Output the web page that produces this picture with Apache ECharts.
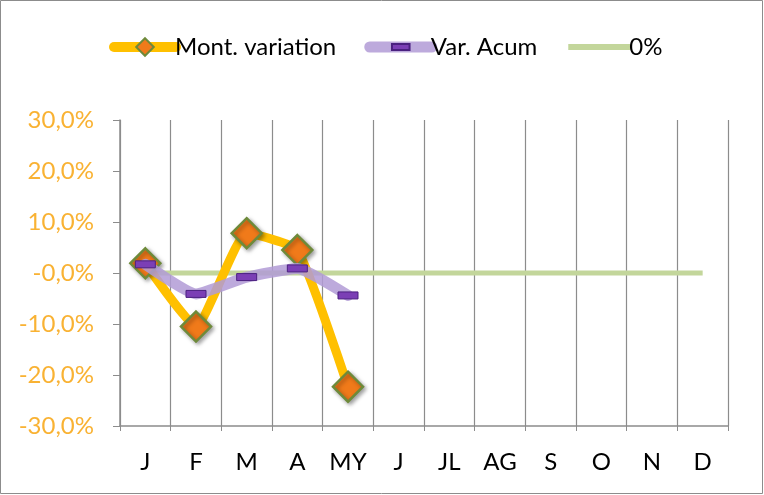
<!DOCTYPE html>
<html>
<head>
<meta charset="utf-8">
<script src="https://cdn.jsdelivr.net/npm/echarts@6/dist/echarts.min.js"></script>
<style>
  html, body { margin: 0; padding: 0; background: #fff; }
  #container { width: 764px; height: 495px; }
</style>
</head>
<body>
<div id="container"></div>
<script>
var months = ['J', 'F', 'M', 'A', 'MY', 'J', 'JL', 'AG', 'S', 'O', 'N', 'D'];
var montVariation = [1.9, -10.5, 7.8, 4.5, -22.3];
var varAcum = [1.7, -4.1, -0.8, 0.9, -4.4];
var zeroLine = [0, 0, 0, 0, 0, 0, 0, 0, 0, 0, 0, 0];
var yTickLabels = {'30': '30,0%', '20': '20,0%', '10': '10,0%', '0': '-0,0%',
  '-10': '-10,0%', '-20': '-20,0%', '-30': '-30,0%'};

var dom = document.getElementById('container');
var myChart = echarts.init(dom, null, { renderer: 'canvas' });
var font = 'Lato';
// flat bar marker inside a square box, so the legend icon keeps its shape
var barSymbol = 'path://M0,-6.5L0,-6.5M0,13.5L0,13.5M0,0L20,0L20,7L0,7Z';

var option = {
  animation: false,
  graphic: [{
    type: 'rect',
    shape: { x: 0.5, y: 0.5, width: 762, height: 493 },
    style: { fill: 'none', stroke: '#8c8c8c', lineWidth: 1 }
  }],
  legend: {
    top: 30,
    left: 104,
    itemWidth: 62,
    itemHeight: 22,
    itemGap: 28,
    textStyle: { fontFamily: font, fontSize: 24, color: '#000', padding: [0, 0, 0, -6] },
    data: [
      { name: 'Mont. variation', lineStyle: { width: 10 } },
      { name: 'Var. Acum', lineStyle: { width: 11 } },
      { name: '0%', lineStyle: { width: 6 }, itemStyle: { opacity: 0 } }
    ]
  },
  grid: { left: 120, right: 36, top: 120, bottom: 69 },
  xAxis: {
    type: 'category',
    data: months,
    boundaryGap: true,
    axisLine: { onZero: false, lineStyle: { color: '#8c8c8c', width: 1.5 } },
    axisTick: { show: true, length: 5, lineStyle: { color: '#8c8c8c' } },
    splitLine: { show: true, lineStyle: { color: '#8c8c8c', width: 1.2 } },
    axisLabel: { fontFamily: font, fontSize: 24, color: '#000', margin: 24 }
  },
  yAxis: {
    type: 'value',
    min: -30,
    max: 30,
    interval: 10,
    axisLine: { show: true, lineStyle: { color: '#8c8c8c', width: 1.5 } },
    axisTick: { show: true, length: 7, lineStyle: { color: '#8c8c8c' } },
    splitLine: { show: false },
    axisLabel: {
      fontFamily: font, fontSize: 24, color: '#F9B233', margin: 26,
      formatter: function (v) { return yTickLabels[String(v)]; }
    }
  },
  series: [
    {
      name: '0%',
      type: 'line',
      data: zeroLine,
      symbol: 'none',
      z: 1,
      lineStyle: { color: '#C3D69B', width: 5 },
      itemStyle: { color: '#C3D69B' }
    },
    {
      name: 'Var. Acum',
      type: 'line',
      data: varAcum,
      smooth: 0.15,
      symbol: barSymbol,
      symbolSize: 20,
      z: 3,
      lineStyle: { color: 'rgba(178,155,214,0.85)', width: 11, cap: 'round' },
      itemStyle: { color: '#7B3FB5', borderColor: '#4B2180', borderWidth: 1 }
    },
    {
      name: 'Mont. variation',
      type: 'line',
      data: montVariation,
      smooth: 0.15,
      symbol: 'diamond',
      symbolSize: 30,
      z: 2,
      lineStyle: { color: '#FFC000', width: 9, cap: 'round' },
      itemStyle: {
        color: '#F07A1A', borderColor: '#6E8A3A', borderWidth: 2.5,
        shadowColor: 'rgba(0,0,0,0.35)', shadowBlur: 4, shadowOffsetX: 2, shadowOffsetY: 2
      }
    }
  ]
};

myChart.setOption(option);
window.addEventListener('resize', myChart.resize);
</script>
</body>
</html>
